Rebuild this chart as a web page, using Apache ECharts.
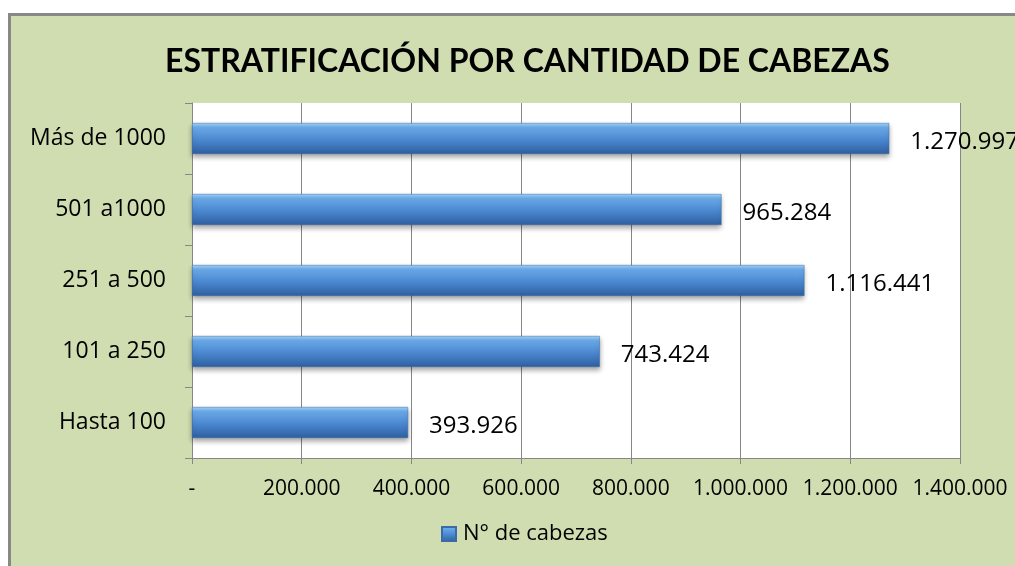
<!DOCTYPE html>
<html>
<head>
<meta charset="utf-8">
<script src="https://cdn.jsdelivr.net/npm/echarts@6/dist/echarts.min.js"></script>
<style>
  html, body { margin: 0; padding: 0; background: #ffffff; overflow: hidden; width: 100%; height: 100%; }
  .marco {
    position: fixed; left: 8px; top: 13px; right: -20px; bottom: -20px;
    background: #cfddb0; border-left: 3px solid #888888; border-top: 3px solid #888888;
  }
  #chart { position: absolute; left: 0; top: 0; width: 1015px; height: 566px; }
</style>
</head>
<body>
<div class="marco"></div>
<div id="chart"></div>
<script>
  // datos
  var categorias = ['Hasta 100', '101 a 250', '251 a 500', '501 a1000', 'Más de 1000'];
  var cabezas = [393926, 743424, 1116441, 965284, 1270997];
  var serieNombre = 'N° de cabezas';
  var titulo = 'ESTRATIFICACIÓN POR CANTIDAD DE CABEZAS';

  function miles(v) {
    if (v === 0) return '-';
    return String(v).replace(/\B(?=(\d{3})+(?!\d))/g, '.');
  }

  var chart = echarts.init(document.getElementById('chart'));
  var option = {
    backgroundColor: 'transparent',
    title: {
      text: titulo,
      left: 160,
      top: 41,
      textStyle: { fontFamily: 'Lato', fontWeight: 'bold', fontSize: 32, color: '#000' }
    },
    legend: {
      data: [serieNombre],
      bottom: 16,
      left: 436,
      icon: 'rect',
      itemWidth: 14,
      itemHeight: 14,
      textStyle: { fontFamily: 'Open Sans', fontSize: 22, color: '#000', padding: [0, 0, 0, 2] }
    },
    grid: { left: 192, right: 55, top: 103, bottom: 108, backgroundColor: '#fff', show: true, borderWidth: 0 },
    xAxis: {
      type: 'value',
      min: 0,
      max: 1400000,
      interval: 200000,
      axisLine: { show: true, lineStyle: { color: '#868686' } },
      axisTick: { show: true, length: 6, lineStyle: { color: '#868686' } },
      splitLine: { show: true, lineStyle: { color: '#868686' } },
      axisLabel: { formatter: miles, margin: 21, fontFamily: 'Open Sans', fontSize: 21, color: '#000' }
    },
    yAxis: {
      type: 'category',
      data: categorias,
      axisLine: { show: true, lineStyle: { color: '#868686' } },
      axisTick: { show: true, length: 7, lineStyle: { color: '#868686' } },
      axisLabel: { margin: 26, fontFamily: 'Open Sans', fontSize: 23, color: '#000' }
    },
    series: [{
      name: serieNombre,
      type: 'bar',
      data: cabezas,
      barWidth: 31,
      itemStyle: {
        color: new echarts.graphic.LinearGradient(0, 0, 0, 1, [
          { offset: 0, color: '#a4d4fb' },
          { offset: 0.15, color: '#6aa9e8' },
          { offset: 0.55, color: '#4a87cf' },
          { offset: 1, color: '#2e5f9f' }
        ]),
        borderColor: '#3a6aa8',
        borderWidth: 0.5,
        shadowBlur: 5,
        shadowOffsetY: 3,
        shadowColor: 'rgba(0,0,0,0.35)'
      },
      label: {
        show: true,
        position: 'right',
        distance: 21,
        offset: [0, 4],
        formatter: function (p) { return miles(p.value); },
        fontFamily: 'Open Sans',
        fontSize: 24,
        color: '#000'
      }
    }]
  };
  chart.setOption(option);
</script>
</body>
</html>
